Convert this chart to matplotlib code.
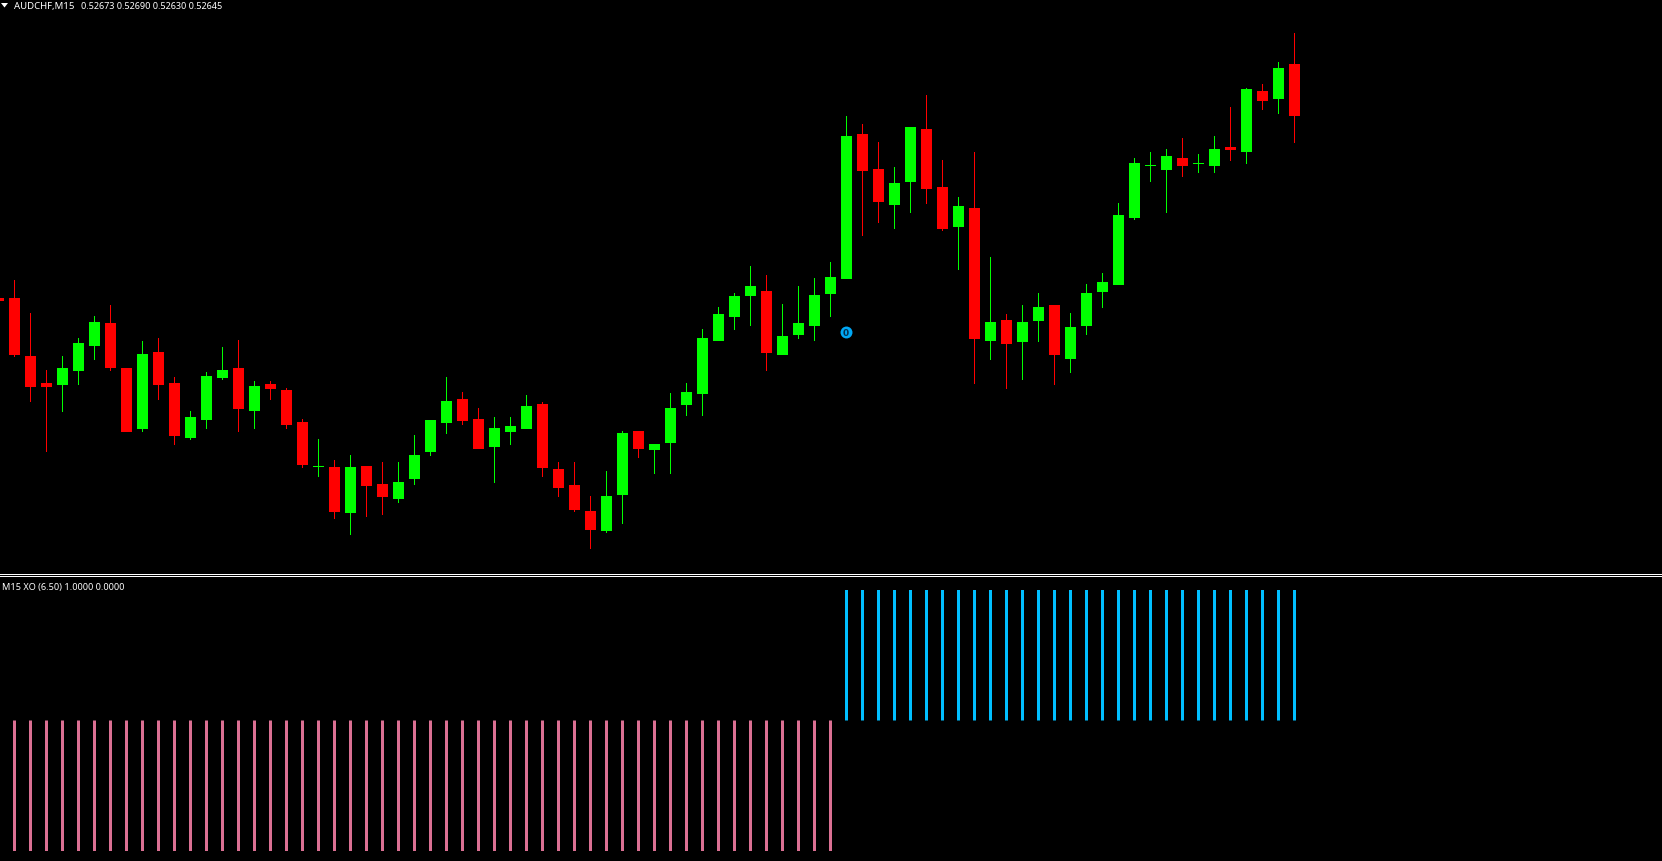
import matplotlib
matplotlib.use('Agg')
import matplotlib.pyplot as plt
from matplotlib.patches import Polygon, Rectangle

# Candles. Levels are chart rows, counted from the top
# of the price window, so a bull candle has close < open here. First bar is index -1.
opens = [299, 299, 357, 384, 386, 372, 347, 324, 369, 430, 353, 384, 439, 421, 379, 369, 412, 385, 391, 423,
         468, 468, 514, 467, 485, 500, 480, 453, 424, 400, 420, 448, 433, 430, 405, 470, 486, 512, 532, 496,
         432, 451, 444, 406, 395, 342, 318, 297, 292, 356, 336, 327, 295, 280, 135, 170, 206, 183, 130, 188,
         228, 209, 342, 321, 343, 322, 306, 360, 327, 293, 286, 219, 167, 171, 159, 165, 167, 148, 153, 92,
         100, 65]
highs = [299, 281, 314, 371, 357, 339, 317, 306, 369, 342, 339, 378, 412, 373, 348, 341, 382, 382, 389, 420,
         440, 461, 456, 467, 463, 463, 436, 421, 378, 393, 409, 418, 418, 396, 403, 463, 463, 497, 472, 432,
         432, 445, 394, 384, 330, 308, 294, 267, 276, 305, 287, 279, 263, 117, 125, 143, 168, 128, 96, 161,
         198, 153, 258, 315, 306, 294, 306, 314, 285, 274, 204, 159, 153, 150, 139, 155, 137, 108, 89, 85,
         63, 34]
lows = [302, 358, 403, 453, 413, 386, 361, 372, 433, 433, 401, 446, 441, 430, 381, 433, 430, 401, 430, 469,
        478, 520, 536, 518, 516, 504, 486, 457, 435, 426, 450, 484, 446, 430, 478, 498, 513, 550, 534, 525,
        459, 475, 475, 417, 417, 342, 331, 327, 372, 356, 340, 342, 318, 280, 237, 224, 230, 214, 205, 232,
        271, 385, 361, 390, 381, 343, 386, 374, 336, 309, 286, 221, 183, 214, 178, 174, 174, 162, 165, 111,
        115, 144]
closes = [302, 356, 388, 388, 369, 344, 323, 369, 433, 355, 386, 437, 418, 377, 371, 410, 387, 390, 426, 466,
          467, 513, 468, 487, 498, 483, 456, 421, 402, 422, 450, 429, 427, 407, 469, 489, 511, 531, 497, 434,
          450, 445, 409, 393, 339, 315, 297, 287, 354, 337, 324, 296, 278, 137, 172, 203, 184, 128, 190, 230,
          207, 340, 323, 345, 323, 308, 356, 328, 294, 283, 216, 164, 166, 157, 167, 164, 150, 151, 90, 102,
          69, 117]

# XO histogram: one value per bar from index 0, first the sell run and then the buy run
xo_sell = [-1.0] * 52
xo_buy = [1.0] * 29

symbol = 'AUDCHF,M15'
ohlc_text = '0.52673 0.52690 0.52630 0.52645'
sub_header = 'M15 XO (6.50) 1.0000 0.0000'

W, H = 1662, 862
PANE_BOTTOM = 575
SUB_TOP = 578
BAR_STEP = 16
FIRST_X = 14.5

fig = plt.figure(figsize=(W / 100, H / 100), dpi=100, facecolor='black')
ax = fig.add_axes([0, 1 - PANE_BOTTOM / H, 1, PANE_BOTTOM / H], facecolor='black')
ax2 = fig.add_axes([0, 0, 1, 1 - SUB_TOP / H], facecolor='black')

x_lim = (-FIRST_X / BAR_STEP, (W - FIRST_X) / BAR_STEP)

# price window, everything sits on whole pixels so no snapping
bars = list(range(-1, len(opens) - 1))
for i, o, h, l, c in zip(bars, opens, highs, lows, closes):
    color = '#00ff00' if c <= o else '#ff0000'
    ax.bar(i, l - h, bottom=h, width=1 / BAR_STEP, color=color, linewidth=0, snap=False)
    ax.bar(i, abs(o - c), bottom=min(o, c), width=11 / BAR_STEP, color=color, linewidth=0, snap=False)

# arrow object on the first buy bar
ax.plot(51.95, 333, 'o', color='#00a8f5', markersize=8.6, markeredgewidth=0)
ax.text(51.95, 333.3, '0', color='#04304f', fontsize=6.5, fontweight='bold', ha='center', va='center',
        family='DejaVu Sans')

ax.set_xlim(x_lim)
ax.set_ylim(PANE_BOTTOM, 0)
ax.axis('off')

# indicator window
sell_x = list(range(len(xo_sell)))
buy_x = list(range(len(xo_sell), len(xo_sell) + len(xo_buy)))
ax2.bar(sell_x, xo_sell, width=3 / BAR_STEP, color='#db7093', linewidth=0, snap=False)
ax2.bar(buy_x, xo_buy, width=3 / BAR_STEP, color='#00bfff', linewidth=0, snap=False)
ax2.set_xlim(x_lim)
ax2.set_ylim(-1 - 10 / 130.5, 1 + 13 / 130.5)
ax2.axis('off')

# double white separator between the windows
for row in (575, 577):
    fig.add_artist(Rectangle((0, 1 - (row + 1) / H), 1, 1 / H, transform=fig.transFigure,
                             facecolor='white', edgecolor='none', snap=False))

# little dropdown arrow in front of the symbol name
fig.add_artist(Polygon([(1 / W, 1 - 4 / H), (8 / W, 1 - 4 / H), (4.5 / W, 1 - 8.5 / H)],
                       transform=fig.transFigure, facecolor='white', edgecolor='none'))

fig.text(14 / W, 1 - 6.5 / H, symbol, color='white', fontsize=6.9, va='center', ha='left', family='Noto Sans')
fig.text(81 / W, 1 - 6.5 / H, ohlc_text, color='white', fontsize=6.5, va='center', ha='left', family='Noto Sans')
fig.text(2 / W, 1 - 587.5 / H, sub_header, color='white', fontsize=6.6, va='center', ha='left', family='Noto Sans')

fig.savefig('out.png', dpi=100, facecolor='black')
